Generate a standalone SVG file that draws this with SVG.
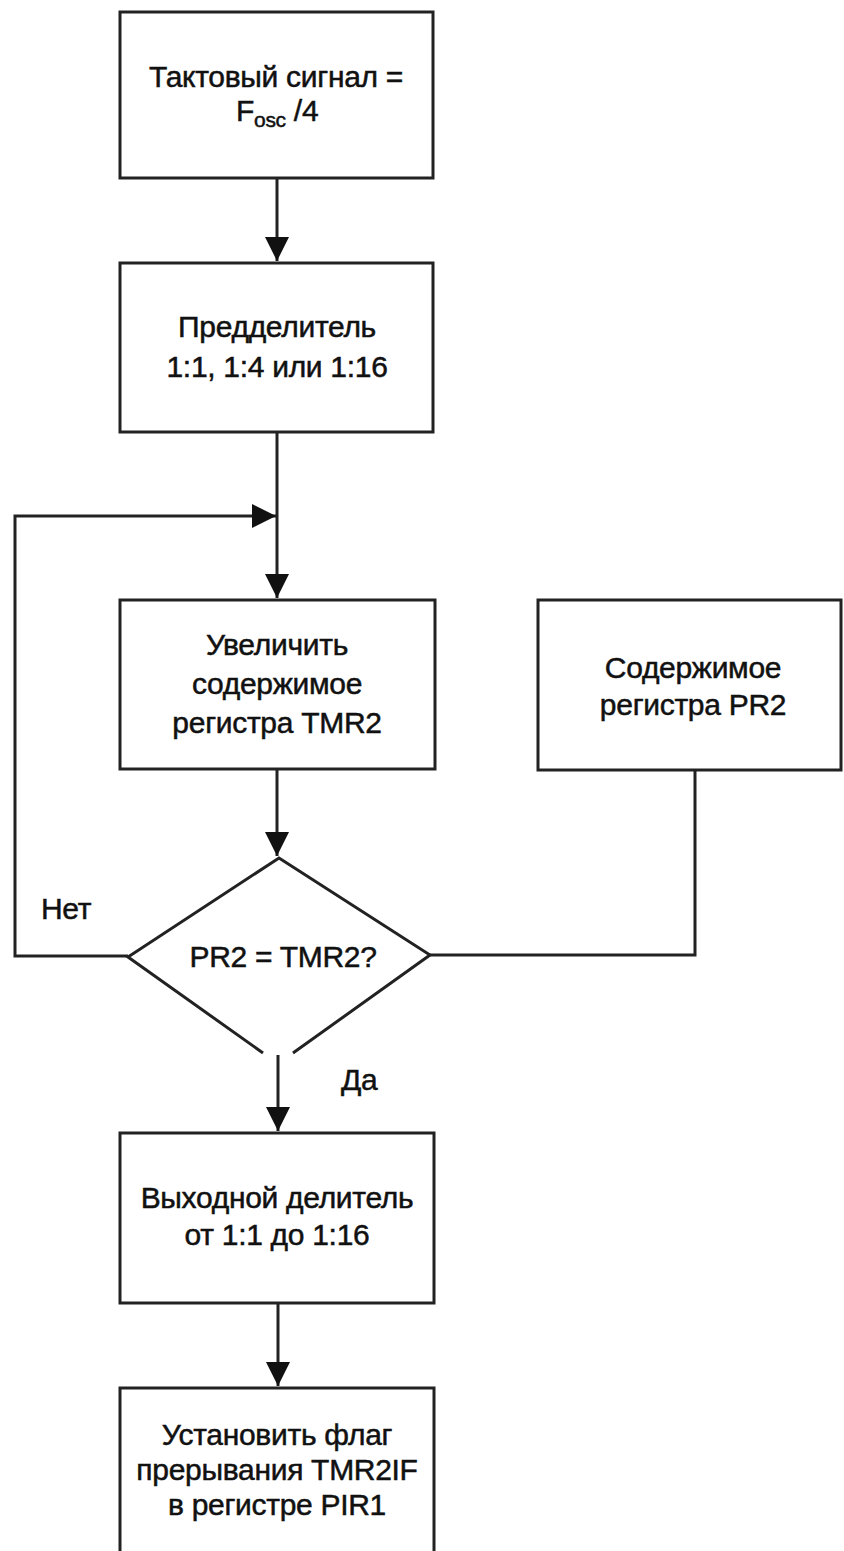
<svg xmlns="http://www.w3.org/2000/svg" width="844" height="1551" viewBox="0 0 844 1551">
<style>
.box{fill:#fff;stroke:#222;stroke-width:3}
.ln{fill:none;stroke:#222;stroke-width:3}
.t{font-family:"Liberation Sans",Arial,sans-serif;font-size:30px;fill:#111;stroke:#111;stroke-width:0.5;text-anchor:middle;letter-spacing:-0.3px}
.tl{font-family:"Liberation Sans",Arial,sans-serif;font-size:30px;fill:#111;stroke:#111;stroke-width:0.5;letter-spacing:-0.3px}
</style>
<defs>
<marker id="ah" markerUnits="userSpaceOnUse" markerWidth="26" markerHeight="26" viewBox="0 0 26 26" refX="24" refY="13" orient="auto">
<path d="M0,1 L24,13 L0,25 Z" fill="#111"/>
</marker>
</defs>
<rect width="844" height="1551" fill="#fff"/>
<g id="connectors">
<line class="ln" x1="277" y1="178" x2="277" y2="261" marker-end="url(#ah)"/>
<line class="ln" x1="277" y1="432" x2="277" y2="598" marker-end="url(#ah)"/>
<polyline class="ln" points="128,956 15,956 15,516 276,516" marker-end="url(#ah)"/>
<line class="ln" x1="277" y1="769" x2="277" y2="856" marker-end="url(#ah)"/>
<polyline class="ln" points="430,955 695,955 695,770"/>
<line class="ln" x1="278" y1="1055" x2="278" y2="1131" marker-end="url(#ah)"/>
<line class="ln" x1="278" y1="1303" x2="278" y2="1386" marker-end="url(#ah)"/>
</g>
<g id="n1">
<rect class="box" x="120" y="12" width="313" height="166"/>
<text class="t" x="276" y="87">Тактовый сигнал =</text>
<text class="tl" x="236" y="121">F<tspan font-size="21" dy="6">osc</tspan><tspan dy="-6"> /4</tspan></text>
</g>
<g id="n2">
<rect class="box" x="120" y="263" width="313" height="169"/>
<text class="t" x="277" y="337">Предделитель</text>
<text class="t" x="277" y="377">1:1, 1:4 или 1:16</text>
</g>
<g id="n3">
<rect class="box" x="120" y="600" width="315" height="169"/>
<text class="t" x="277" y="655">Увеличить</text>
<text class="t" x="277" y="694">содержимое</text>
<text class="t" x="277" y="733">регистра TMR2</text>
</g>
<g id="n4">
<rect class="box" x="538" y="600" width="303" height="170"/>
<text class="t" x="693" y="678">Содержимое</text>
<text class="t" x="693" y="715">регистра PR2</text>
</g>
<g id="n5">
<path class="ln" d="M263,1053 L128,957 L279,858 L430,955 L293,1053"/>
<text class="t" x="283" y="967">PR2 = TMR2?</text>
</g>
<g id="l1"><text class="tl" x="41" y="919">Нет</text></g>
<g id="l2"><text class="tl" x="341" y="1090">Да</text></g>
<g id="n6">
<rect class="box" x="120" y="1133" width="314" height="170"/>
<text class="t" x="277" y="1208">Выходной делитель</text>
<text class="t" x="277" y="1245">от 1:1 до 1:16</text>
</g>
<g id="n7">
<rect class="box" x="120" y="1388" width="314" height="180"/>
<text class="t" x="277" y="1445">Установить флаг</text>
<text class="t" x="277" y="1480">прерывания TMR2IF</text>
<text class="t" x="277" y="1515">в регистре PIR1</text>
</g>
</svg>
